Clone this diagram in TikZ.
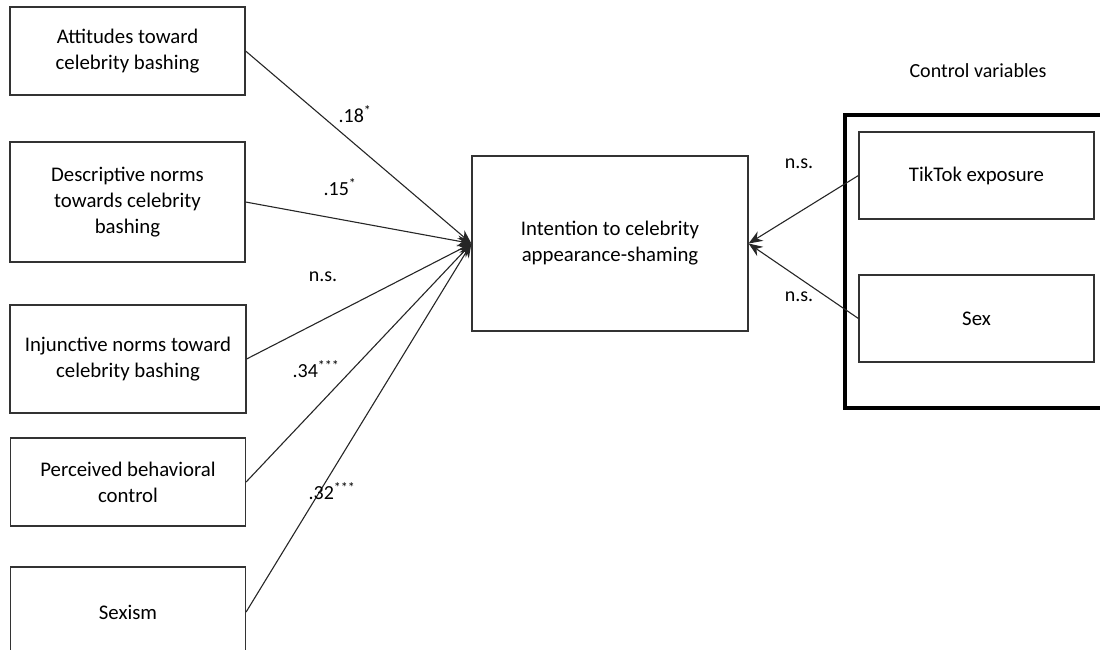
\documentclass[tikz,border=0pt]{standalone}
\usepackage{fontspec}
\setmainfont{Carlito}
\usetikzlibrary{arrows.meta}
\begin{document}
\begin{tikzpicture}[x=1pt,y=-1pt,
  box/.style={draw=black!80,line width=1.2pt,align=center,inner sep=0pt,
    font=\fontsize{20.8}{26}\selectfont},
  conn/.style={draw=black!85,line width=1.1pt,-{Stealth[length=14pt,width=11pt]}},
  lab/.style={font=\fontsize{20}{22}\selectfont,inner sep=0pt}]
\useasboundingbox (0,0) rectangle (1100,650);
\clip (0,0) rectangle (1100,650);
\node[box,minimum width=235,minimum height=88] (a1) at (127.5,51) {Attitudes toward\\celebrity bashing};
\node[box,minimum width=235,minimum height=120] (a2) at (127.5,202) {Descriptive norms\\towards celebrity\\bashing};
\node[box,minimum width=236,minimum height=108] (a3) at (128,359) {Injunctive norms toward\\celebrity bashing};
\node[box,minimum width=235,minimum height=88] (a4) at (128,482) {Perceived behavioral\\control};
\node[box,minimum width=235,minimum height=90] (a5) at (128,612) {Sexism};
\node[box,minimum width=276,minimum height=175] (mid) at (610,243.5) {Intention to celebrity\\appearance-shaming};
\node[draw=black,line width=4pt,minimum width=265,minimum height=293,inner sep=0pt] (ctrl) at (977.5,261.5) {};
\node[lab] (ctrllab) at (978,71) {Control variables};
\node[box,minimum width=235,minimum height=87] (c1) at (976.5,175.5) {TikTok exposure};
\node[box,minimum width=235,minimum height=87] (c2) at (976.5,318.5) {Sex};
\draw[conn] (a1.east) -- (mid.west);
\draw[conn] (a2.east) -- (mid.west);
\draw[conn] (a3.east) -- (mid.west);
\draw[conn] (a4.east) -- (mid.west);
\draw[conn] (a5.east) -- (mid.west);
\draw[conn] (c1.west) -- (mid.east);
\draw[conn] (c2.west) -- (mid.east);
\node[lab] (l1) at (355,114) {.18\textsuperscript{*}};
\node[lab] (l2) at (340,187) {.15\textsuperscript{*}};
\node[lab] (l3) at (323,277) {n.s.};
\node[lab] (l4) at (316,369) {.34\textsuperscript{***}};
\node[lab] (l5) at (332,491) {.32\textsuperscript{***}};
\node[lab] (l6) at (799,164) {n.s.};
\node[lab] (l7) at (799,297) {n.s.};
\end{tikzpicture}
\end{document}
